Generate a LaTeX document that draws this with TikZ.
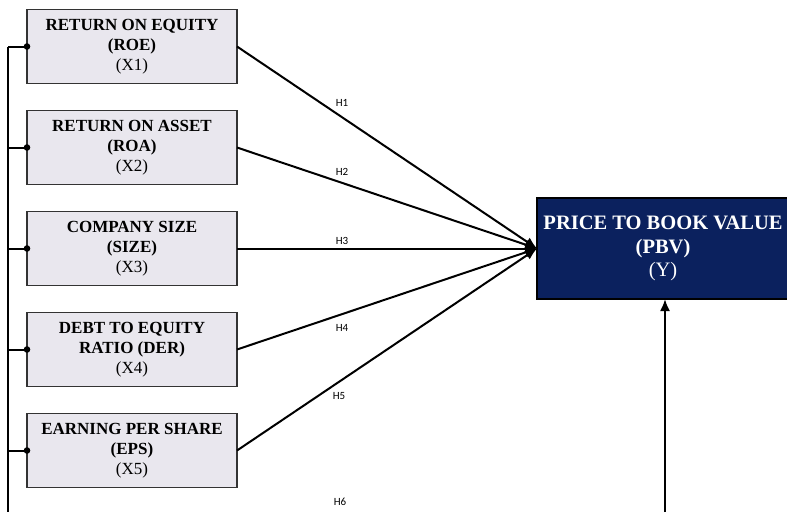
\documentclass[tikz,border=0pt]{standalone}
\usepackage{fontspec}
\setmainfont{Liberation Serif}
\newfontfamily\hypfont{Carlito}
\usepackage{xcolor}
\definecolor{boxLight}{HTML}{E9E7EE}
\definecolor{boxDark}{HTML}{0B215E}
\usetikzlibrary{%
    positioning,
    arrows.meta,
    calc
}

\begin{document}
\begin{tikzpicture}[x=1pt, y=-1pt, node distance=27pt,
                stage/.style={rectangle, minimum width=210pt, minimum height=74pt, inner sep=0pt, outer sep=0pt, text centered, fill=boxLight, draw=black!80, line width=1.3pt, align=center, font=\fontsize{17}{20}\selectfont},
                target/.style={rectangle, minimum width=252pt, minimum height=101pt, inner sep=0pt, outer sep=0pt, text centered, fill=boxDark, draw=black, line width=1.3pt, align=center, text=white, font=\fontsize{20.5}{23.5}\selectfont},
                flow/.style={draw, line width=2pt, -{Latex[length=12pt,width=10pt]}},
                bus/.style={draw, line width=2pt},
                hyp/.style={inner sep=0pt, font=\hypfont\fontsize{11}{12}\selectfont}
            ]

            \useasboundingbox (0,0) rectangle (787,512);
            \clip (0,0) rectangle (787,512);

            % independent variables
            \node (roe) at (132,46.5) [stage] {\textbf{RETURN ON EQUITY}\\ \textbf{(ROE)}\\ (X1)};
            \node (roa) [stage, below=of roe] {\textbf{RETURN ON ASSET}\\ \textbf{(ROA)}\\ (X2)};
            \node (size) [stage, below=of roa] {\textbf{COMPANY SIZE}\\ \textbf{(SIZE)}\\ (X3)};
            \node (der) [stage, below=of size] {\textbf{DEBT TO EQUITY}\\ \textbf{RATIO (DER)}\\ (X4)};
            \node (eps) [stage, below=of der] {\textbf{EARNING PER SHARE}\\ \textbf{(EPS)}\\ (X5)};

            % dependent variable
            \node (pbv) [target, right=300pt of size] {\textbf{PRICE TO BOOK VALUE}\\ \textbf{(PBV)}\\ (Y)};

            \coordinate (busBot) at (8,512);
            \coordinate (upBot) at (665,512);

            % hypotheses
            \draw [flow] (roe.east) -- (pbv.west) node (h1) [hyp, pos=0.35, above=10pt] {H1};
            \draw [flow] (roa.east) -- (pbv.west) node (h2) [hyp, pos=0.35, above=6pt] {H2};
            \draw [flow] (size.east) -- (pbv.west) node (h3) [hyp, pos=0.35, above=3pt] {H3};
            \draw [flow] (der.east) -- (pbv.west) node (h4) [hyp, pos=0.35, below=9pt] {H4};
            \draw [flow] (eps.east) -- (pbv.west) node (h5) [hyp, pos=0.34, below=10pt] {H5};
            \node (h6) at (340,502) [hyp] {H6};

            % joint effect
            \draw [bus] (roe.west -| busBot) -- (busBot);
            \foreach \n in {roe,roa,size,der,eps} {
                \draw [bus] (\n.west -| busBot) -- (\n.west);
                \fill (\n.west) circle (3.3pt);
            }
            \draw [flow] (upBot) -- (upBot |- pbv.south);
        \end{tikzpicture}
\end{document}
